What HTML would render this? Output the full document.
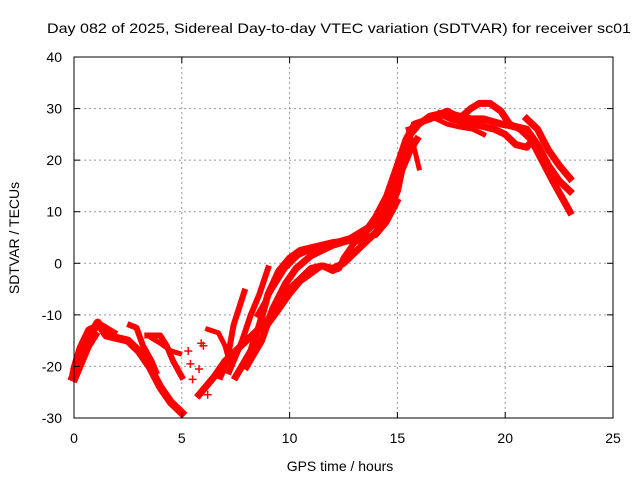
<!DOCTYPE html>
<html><head><meta charset="utf-8"><style>
body{margin:0;background:#fff}
svg text{font-family:"Liberation Sans",sans-serif;font-size:14px;fill:#000}
</style></head><body>
<svg id="chart" width="640" height="480" viewBox="0 0 640 480" xmlns="http://www.w3.org/2000/svg">
<text x="47" y="33" textLength="584" lengthAdjust="spacingAndGlyphs">Day 082 of 2025, Sidereal Day-to-day VTEC variation (SDTVAR) for receiver sc01</text>
<g id="grid"></g>
<g id="marks"></g>
<rect x="74" y="57" width="539" height="361" fill="none" stroke="#000" stroke-width="1"/>
<g id="axes"></g>
<text x="340" y="471" text-anchor="middle">GPS time / hours</text>
<text transform="translate(19,238) rotate(-90)" text-anchor="middle">SDTVAR / TECUs</text>
</svg>
<script>
const xTicks=[0,5,10,15,20,25];
const yTicks=[-30,-20,-10,0,10,20,30,40];
const trackA=[[0,-21],[0.2,-18],[0.4,-16],[0.8,-13.5],[1.1,-11.5],[1.5,-14],[2,-14.5],[2.5,-15],[3,-17],[3.5,-20],[4,-24],[4.5,-27],[5,-29]];
const trackA2=[[0,-22],[0.3,-19],[0.6,-16],[0.9,-14]];
const trackA3=[[0.05,-20],[0.3,-16.5],[0.7,-13],[1.2,-12],[1.8,-13.5]];
const trackB=[[2.6,-12],[2.9,-12.5],[3.2,-16],[3.6,-19],[3.8,-21]];
const trackC=[[3.4,-14],[4,-14],[4.3,-16],[4.6,-19],[5,-22]];
const trackD=[[3.6,-14.5],[4.0,-15.5],[4.5,-17],[4.9,-17.5]];
const trackE=[[5.8,-25.5],[6.5,-22],[7,-19],[7.5,-17],[8,-15],[8.5,-13],[9,-11],[9.5,-7],[10,-5],[10.5,-3],[11,-1],[11.5,-0.5],[12,-1],[12.5,0],[13,2],[13.5,4],[14,6],[14.5,9],[15,14],[15.3,20],[15.6,25],[16,27],[16.5,28.5],[17,29],[17.5,28],[18,27.5],[18.5,27],[19,26.5],[19.5,26],[20,25],[20.5,23],[21,22.5],[21.3,24]];
const trackF=[[6.8,-22],[7.1,-19],[7.4,-12],[7.9,-5.5]];
const trackG=[[7.2,-21],[7.8,-15],[8.2,-10],[8.6,-6],[9,-1]];
const trackH=[[7.5,-22],[8.2,-17],[8.6,-12],[9,-6],[9.5,-1.5],[10,1],[10.5,2.5],[11,3],[12,4],[13,4.5],[13.5,6],[14,9],[14.5,13],[15,19],[15.4,24],[15.8,27],[16.5,28],[17.3,29.5],[18,28]];
const trackI=[[8,-20],[8.7,-15],[9.2,-9],[9.8,-4],[10.3,-1],[11,1.5],[12,3.5],[12.8,4.5],[13.5,6],[14,8],[14.3,10],[14.8,13],[15.2,18],[15.6,22],[15.9,24]];
const trackJ=[[8.8,-13],[9.5,-9],[10,-6],[10.5,-3.5],[11,-2],[11.5,-0.5],[12,-1.5],[12.3,-1],[12.5,1],[13,4],[13.5,5],[14,5.5],[14.5,8],[15,12]];
const trackJ2=[[8.5,-10],[9.2,-5],[9.8,-1],[10.4,1.5],[11.2,3],[12,4],[12.8,5],[13.6,7],[14.2,10]];
const trackK=[[6.2,-12.8],[6.7,-13.5],[7,-16],[7.2,-19]];
const trackL=[[15.5,26],[15.8,22],[16,18.5]];
const trackM=[[18,28.5],[18.4,30],[18.8,31],[19.3,31],[19.8,29.5],[20.2,27],[20.7,26],[21.2,24],[21.7,20],[22.2,16],[22.6,13],[23,10]];
const trackN=[[17,29],[18,28],[19,28],[19.8,27],[20.5,26.5],[21,26],[21.5,23],[22,19],[22.5,16],[23,14]];
const trackO=[[21,28],[21.5,26],[22,22],[22.5,19],[23,16.5]];
const trackP=[[16.8,28],[17.3,27],[17.8,26.5],[18.5,26],[19,25]];
const trackQ=[[15.8,27],[16.5,28],[17.5,29],[18.5,28],[19.5,27.5],[20.3,26.5]];
const tracks=[trackA,trackA2,trackA3,trackB,trackC,trackD,trackE,trackF,trackG,trackH,trackI,trackJ,trackJ2,trackK,trackL,trackM,trackN,trackO,trackP,trackQ];
const trackWidths=[8,10,8,6,6,5,7,6,6,7,7,6,5,5,5,7,7,7,5,6];
const scatterPts=[[5.3,-17],[5.4,-19.5],[5.8,-20.5],[6,-16],[5.5,-22.5],[6.2,-25.5],[5.9,-15.5]];

const X0=74,X1=613,Y0=418,Y1=57;
const xs=v=>X0+(v-0)/25*(X1-X0);
const ys=v=>Y0-(v+30)/70*(Y0-Y1);
const NS="http://www.w3.org/2000/svg";
const grid=document.getElementById('grid'),axes=document.getElementById('axes'),marks=document.getElementById('marks');
function mk(tag,attrs,parent){const e=document.createElementNS(NS,tag);for(const k in attrs)e.setAttribute(k,attrs[k]);parent.appendChild(e);return e;}
xTicks.forEach(t=>{
  const x=xs(t);
  if(t>0&&t<25){const g=mk('line',{x1:x,x2:x,y1:Y1,y2:Y0,stroke:'#999','stroke-dasharray':'2,3','stroke-width':1},grid);
  
  }
  const a=mk('line',{x1:x,x2:x,y1:Y0,y2:Y0-6,stroke:'#000'},axes);
  
  
  const b=mk('line',{x1:x,x2:x,y1:Y1,y2:Y1+6,stroke:'#000'},axes);
  
  
  const l=mk('text',{x:x,y:443,'text-anchor':'middle'},axes);l.textContent=t;
  
  
});
yTicks.forEach(t=>{
  const y=ys(t);
  if(t>-30&&t<40){const g=mk('line',{x1:X0,x2:X1,y1:y,y2:y,stroke:'#999','stroke-dasharray':'2,3','stroke-width':1},grid);
  
  }
  const a=mk('line',{x1:X0,x2:X0+6,y1:y,y2:y,stroke:'#000'},axes);
  
  
  const b=mk('line',{x1:X1,x2:X1-6,y1:y,y2:y,stroke:'#000'},axes);
  
  
  const l=mk('text',{x:62,y:y+5,'text-anchor':'end'},axes);l.textContent=t;
  
  
});
tracks.forEach((tr,i)=>{
  const p=mk('polyline',{points:tr.map(d=>xs(d[0])+','+ys(d[1])).join(' '),fill:'none',stroke:'#ff0000','stroke-width':trackWidths[i],'stroke-linejoin':'round','stroke-linecap':'square'},marks);
  
  
});
scatterPts.forEach(d=>{
  const x=xs(d[0]),y=ys(d[1]);
  const p=mk('path',{d:`M${x-4},${y}H${x+4}M${x},${y-4}V${y+4}`,stroke:'#ff0000','stroke-width':1.5},marks);
  
  
});
</script>
</body></html>
